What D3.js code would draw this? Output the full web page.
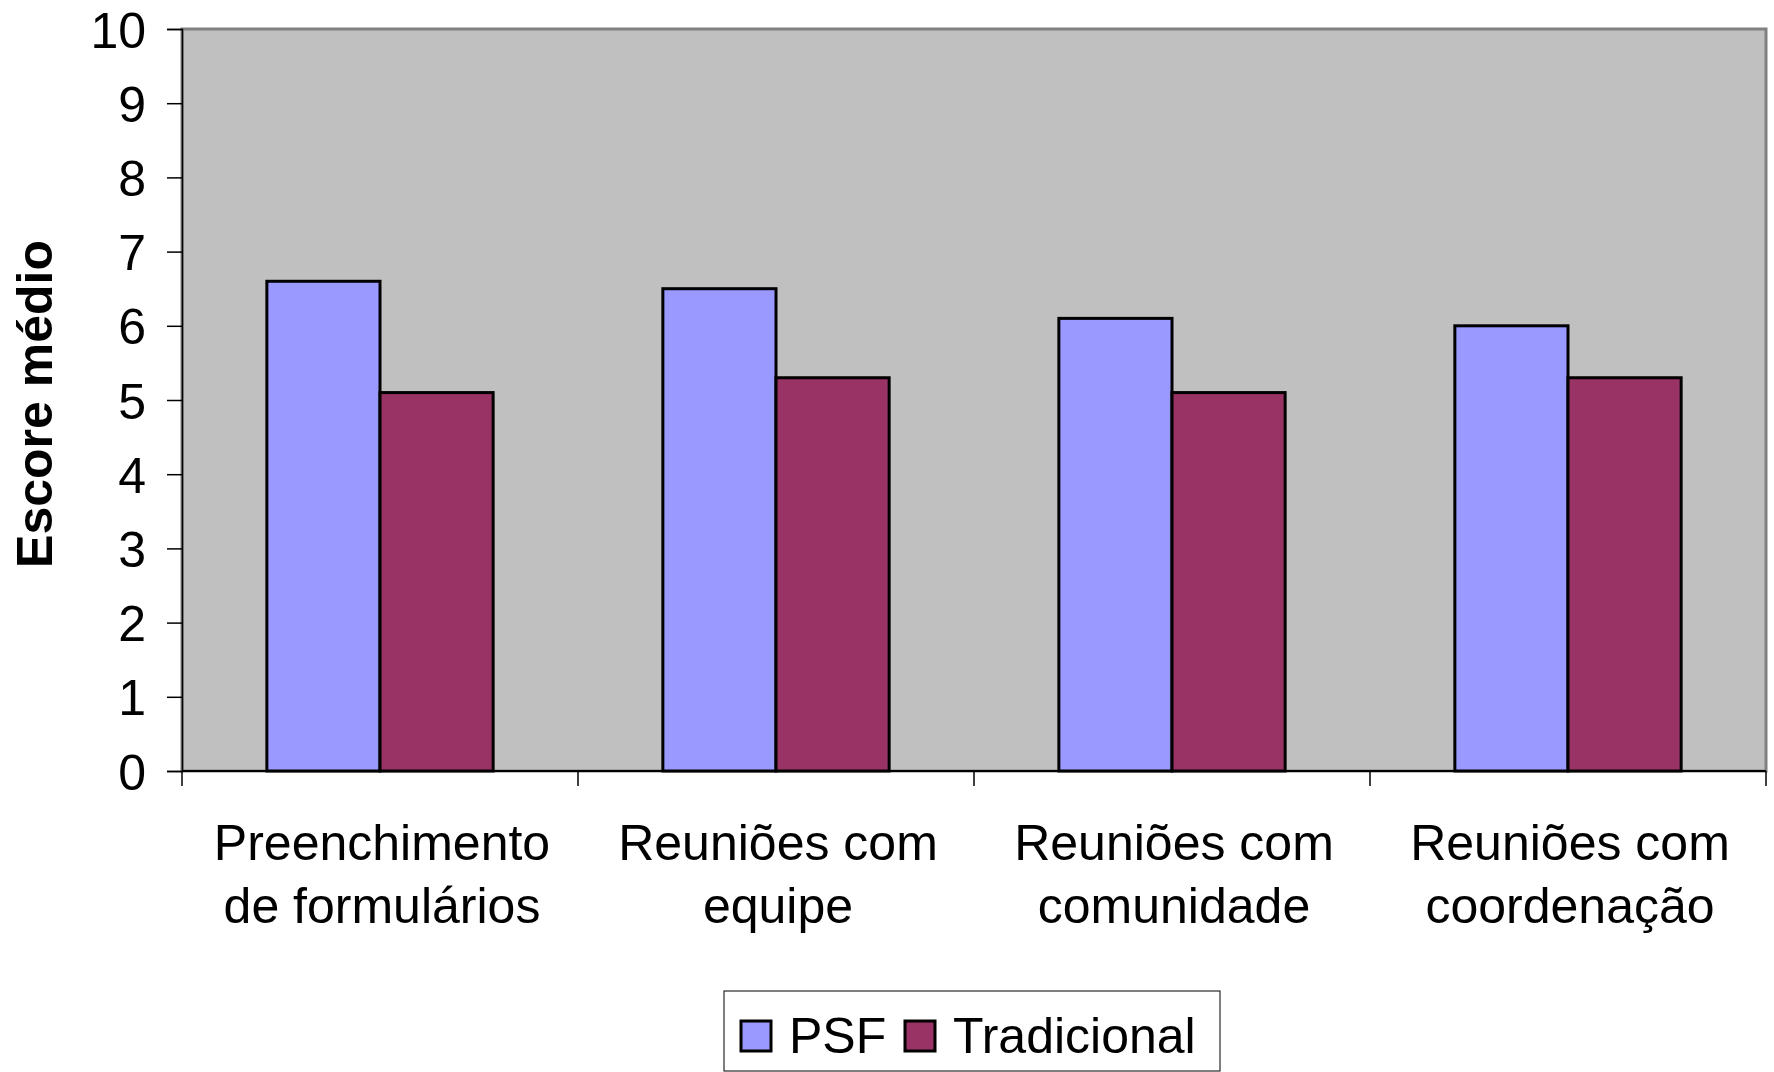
<!DOCTYPE html>
<html>
<head>
<meta charset="utf-8">
<script src="https://cdn.jsdelivr.net/npm/d3@7"></script>
<style>
  body { margin: 0; background: #fff; }
  text { font-family: "Liberation Sans", Arial, sans-serif; fill: #000; }
</style>
</head>
<body>
<div id="chart"></div>
<script>
var categories = [
  ["Preenchimento", "de formulários"],
  ["Reuniões com", "equipe"],
  ["Reuniões com", "comunidade"],
  ["Reuniões com", "coordenação"]
];
var seriesNames = ["PSF", "Tradicional"];
var psf = [6.6, 6.5, 6.1, 6.0];
var tradicional = [5.1, 5.3, 5.1, 5.3];
var yTicks = [0, 1, 2, 3, 4, 5, 6, 7, 8, 9, 10];
var colors = ["#9999FF", "#993366"];

var W = 1774, H = 1072;
var margin = { top: 29, right: 8, bottom: 301, left: 182 },
    width = W - margin.left - margin.right,
    height = H - margin.top - margin.bottom;

var svg = d3.select("#chart").append("svg")
    .attr("width", W)
    .attr("height", H);

var g = svg.append("g")
    .attr("transform", "translate(" + margin.left + "," + margin.top + ")");

var x0 = d3.scaleBand()
    .domain(d3.range(categories.length))
    .range([0, width])
    .paddingInner(0)
    .paddingOuter(0);

// excel gap width 150% -> bars occupy 2/3.5 of band
var x1 = d3.scaleBand()
    .domain(d3.range(seriesNames.length))
    .range([x0.bandwidth() * 0.75 / 3.5, x0.bandwidth() * 2.75 / 3.5]);

var y = d3.scaleLinear()
    .domain([0, 10])
    .range([height, 0]);

// plot area
g.append("rect")
    .attr("width", width)
    .attr("height", height)
    .attr("fill", "#C0C0C0")
    .attr("stroke", "#808080")
    .attr("stroke-width", 3);

var data = categories.map(function (c, i) {
  return [psf[i], tradicional[i]];
});

var groups = g.selectAll(".cat")
    .data(data)
    .enter().append("g")
    .attr("class", "cat")
    .attr("transform", function (d, i) { return "translate(" + x0(i) + ",0)"; });

groups.selectAll("rect")
    .data(function (d) { return d; })
    .enter().append("rect")
    .attr("x", function (d, j) { return x1(j); })
    .attr("width", x1.bandwidth())
    .attr("y", function (d) { return y(d); })
    .attr("height", function (d) { return height - y(d); })
    .attr("fill", function (d, j) { return colors[j]; })
    .attr("stroke", "#000")
    .attr("stroke-width", 3);

// y axis
var yAxis = g.append("g")
    .call(d3.axisLeft(y).tickValues(yTicks).tickSize(15).tickPadding(21));
yAxis.select(".domain").attr("stroke", "#000").attr("stroke-width", 1.5);
yAxis.selectAll(".tick line").attr("stroke", "#000").attr("stroke-width", 1.5);
yAxis.selectAll("text")
    .style("font-size", "50px")
    .attr("dy", "0.36em");

// x axis
var xAxis = g.append("g")
    .attr("transform", "translate(0," + height + ")");
xAxis.append("line")
    .attr("x1", 0).attr("x2", width)
    .attr("stroke", "#000").attr("stroke-width", 2);
xAxis.selectAll(".xt")
    .data(d3.range(categories.length + 1))
    .enter().append("line")
    .attr("x1", function (i) { return i * x0.step(); })
    .attr("x2", function (i) { return i * x0.step(); })
    .attr("y1", 0).attr("y2", 15)
    .attr("stroke", "#000").attr("stroke-width", 1.5);

var labels = xAxis.selectAll(".xl")
    .data(categories)
    .enter().append("text")
    .attr("text-anchor", "middle")
    .attr("transform", function (d, i) { return "translate(" + (x0(i) + x0.bandwidth() / 2 + 2) + ",0)"; })
    .style("font-size", "50px");
labels.selectAll("tspan")
    .data(function (d) { return d; })
    .enter().append("tspan")
    .attr("x", 0)
    .attr("y", function (d, k) { return 89 + k * 63; })
    .text(function (d) { return d; });

// y title
svg.append("text")
    .attr("transform", "translate(52," + (margin.top + height / 2 + 4) + ") rotate(-90)")
    .attr("text-anchor", "middle")
    .style("font-size", "50px")
    .style("font-weight", "bold")
    .text("Escore médio");

// legend
var legend = svg.append("g");
legend.append("rect")
    .attr("x", 724).attr("y", 991)
    .attr("width", 496).attr("height", 80)
    .attr("fill", "#fff")
    .attr("stroke", "#000")
    .attr("stroke-width", 1);

var legX = [741, 905];
var item = legend.selectAll(".li")
    .data(seriesNames)
    .enter().append("g")
    .attr("transform", function (d, i) { return "translate(" + legX[i] + ",1021)"; });
item.append("rect")
    .attr("width", 30).attr("height", 30)
    .attr("fill", function (d, i) { return colors[i]; })
    .attr("stroke", "#000")
    .attr("stroke-width", 3);
item.append("text")
    .attr("x", 48)
    .attr("y", 32)
    .style("font-size", "50px")
    .text(function (d) { return d; });
</script>
</body>
</html>
